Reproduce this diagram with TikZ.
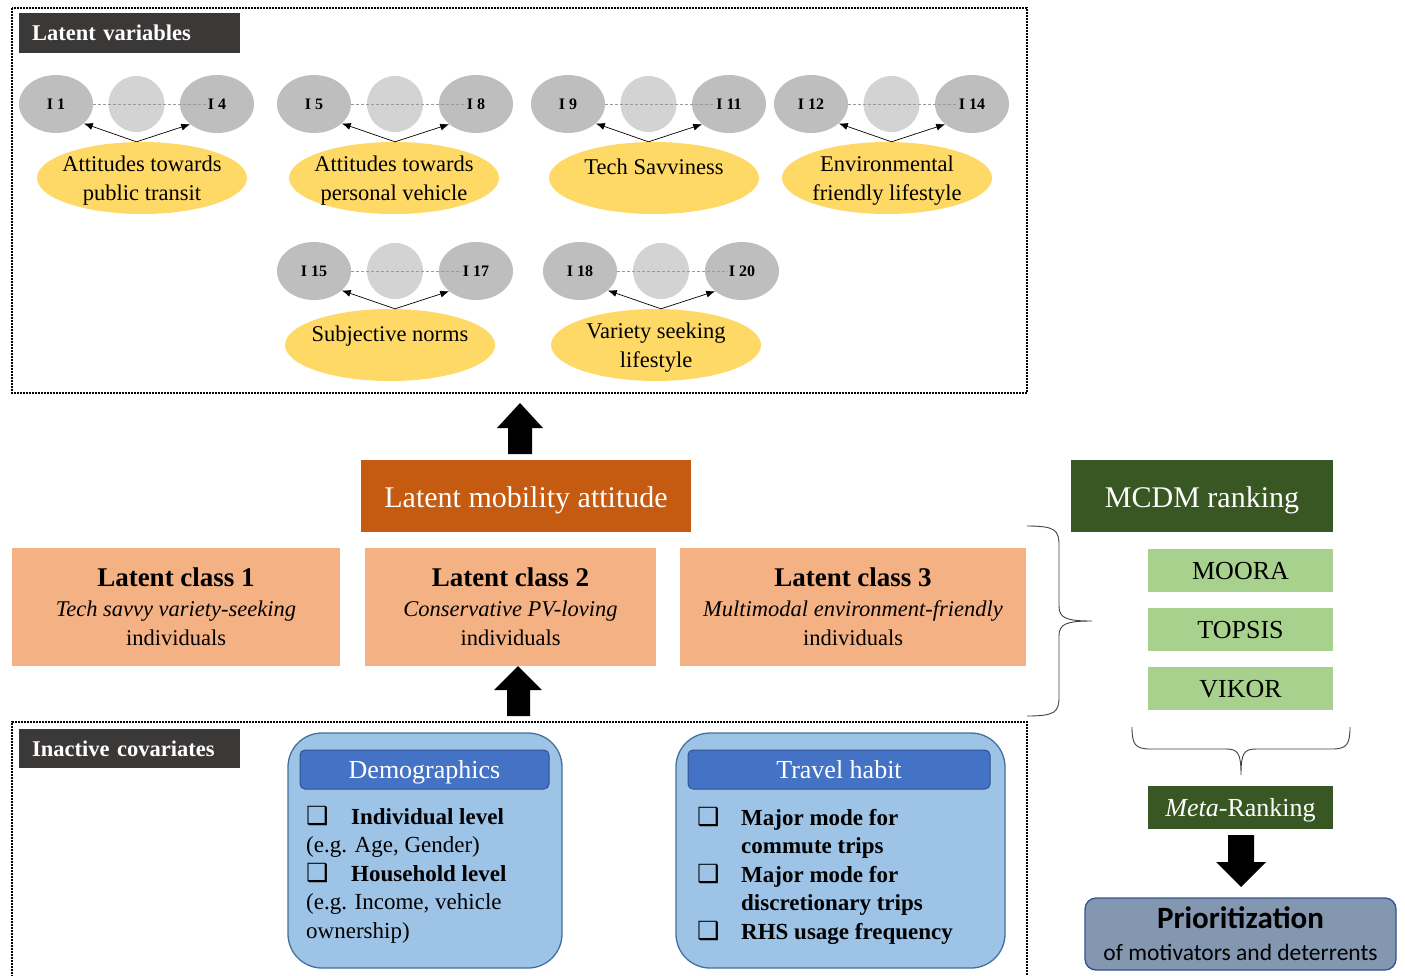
\documentclass[tikz,border=0pt]{standalone}
\usepackage{fontspec}
\setmainfont{Liberation Serif}
\newfontfamily\carlito{Carlito}
\newfontfamily\djv{DejaVu Sans}
\usetikzlibrary{shapes.geometric,arrows.meta,calc}
\definecolor{darklab}{HTML}{3B3838}
\definecolor{igray}{HTML}{BFBEBE}
\definecolor{mgray}{HTML}{D3D3D3}
\definecolor{yel}{HTML}{FFD966}
\definecolor{dorange}{HTML}{C55A11}
\definecolor{peach}{HTML}{F4B183}
\definecolor{dgreen}{HTML}{385723}
\definecolor{lgreen}{HTML}{A9D18E}
\definecolor{lblue}{HTML}{9DC3E6}
\definecolor{hblue}{HTML}{4472C4}
\definecolor{bblue}{HTML}{41719C}
\definecolor{hbord}{HTML}{2F528F}
\definecolor{prio}{HTML}{8497B0}
\definecolor{bracec}{HTML}{404040}
\newcommand{\fs}[2]{\fontsize{#1}{#2}\selectfont}
\newcommand{\cbx}[1]{\makebox[#1][l]{\djv\fontsize{25}{28}\selectfont ❑}}
\newcommand{\lvgroup}[8]{%
  \node[iell] (#1L) at (#2,#4) {};
  \node[icirc] (#1M) at ({(#2+#3)/2},#4) {};
  \node[iell] (#1R) at (#3,#4) {};
  \node[ilab] (#1Lt) at (#1L) {#5};
  \node[ilab] (#1Rt) at (#1R) {#6};
  \draw[idash] (#1L.east) -- (#1Rt.west);
  \node[yell] (#1Y) at (#7,#4+74) {};
  \node[ytext] (#1T) at ([yshift=-3]#1Y.center) {#8};
  \coordinate (#1A) at (#1M |- #1Y.north);
  \draw[iarrow] (#1A) -- (#1L.-35);
  \draw[iarrow] (#1A) -- (#1R.-143);
}
\begin{document}
\begin{tikzpicture}[x=1pt,y=-1pt,
  iell/.style={ellipse,fill=igray,draw=none,minimum width=74,minimum height=58,inner sep=0},
  icirc/.style={circle,fill=mgray,draw=none,minimum size=56,inner sep=0},
  ilab/.style={inner sep=1,font=\bfseries\fs{16}{18}},
  idash/.style={draw=gray!80,dash pattern=on 3pt off 2pt,line width=0.8},
  yell/.style={ellipse,fill=yel,draw=none,minimum width=210,minimum height=72,inner sep=0},
  ytext/.style={align=center,font=\fs{22.5}{29}},
  iarrow/.style={-{Latex[length=9pt,width=7pt]},line width=0.7},
  frame/.style={line width=1.6,dash pattern=on 1.6pt off 1.4pt},
  darklab/.style={fill=darklab,text=white,font=\bfseries\fs{22.5}{26},anchor=north west,
     text width=195,inner xsep=13,inner ysep=0,minimum height=40,align=left},
  peachbox/.style={fill=peach,draw=none,minimum height=118,inner sep=0,align=center,font=\fs{22.5}{29.5}},
  greenbox/.style={fill=lgreen,draw=none,minimum width=185,minimum height=43,inner sep=0,
     text height=18,text depth=0,font=\fs{26}{30}},
  bigbox/.style={draw=none,text=white,minimum height=72,inner sep=0,text height=22,text depth=0,font=\fs{30}{34}},
  outerblue/.style={fill=lblue,draw=bblue,line width=1.3,rounded corners=34},
  headblue/.style={fill=hblue,draw=hbord,line width=1,rounded corners=5,text=white,
     minimum height=39,inner sep=0,text height=18,text depth=0,font=\fs{26}{30}},
  brace/.style={draw=bracec,line width=0.9},
  blk/.style={fill=black}
]
\useasboundingbox (0,0) rectangle (1405,975);

% ---------- Latent variables frame ----------
\draw[frame] (12,8) rectangle (1027,393);
\node[darklab] (lvlab) at (19,13) {Latent variables};

\lvgroup{ga}{56}{217}{104}{I 1}{I 4}{142}{Attitudes towards\\public transit}
\lvgroup{gb}{314}{476}{104}{I 5}{I 8}{394}{Attitudes towards\\personal vehicle}
\lvgroup{gc}{568}{729}{104}{I 9}{I 11}{654}{Tech Savviness\\\mbox{}}
\lvgroup{gd}{811}{972}{104}{I 12}{I 14}{887}{Environmental\\friendly lifestyle}
\lvgroup{ge}{314}{476}{271}{I 15}{I 17}{390}{Subjective norms\\\mbox{}}
\lvgroup{gf}{580}{742}{271}{I 18}{I 20}{656}{Variety seeking\\lifestyle}

% ---------- Latent mobility attitude ----------
\node[bigbox,fill=dorange,minimum width=330] (lma) at (526,496) {Latent mobility attitude};
\fill[blk] (508,454) -- (508,428) -- (497,428) -- (520,403) -- (543,428) -- (532,428) -- (532,454) -- cycle;

% ---------- Latent classes ----------
\node[peachbox,minimum width=328] (lc1) at (176,607)
  {{\bfseries\fs{27}{29.5}Latent class 1}\\\textit{Tech savvy variety-seeking}\\individuals};
\node[peachbox,minimum width=291] (lc2) at (510.5,607)
  {{\bfseries\fs{27}{29.5}Latent class 2}\\\textit{Conservative PV-loving}\\individuals};
\node[peachbox,minimum width=346] (lc3) at (853,607)
  {{\bfseries\fs{27}{29.5}Latent class 3}\\\textit{Multimodal environment-friendly}\\individuals};
\fill[blk] (507,716) -- (507,690) -- (494,690) -- (518,666) -- (542,690) -- (530,690) -- (530,716) -- cycle;

% ---------- right brace ----------
\draw[brace] (1027,526) .. controls (1055,526) and (1059,530) .. (1059,545) -- (1059,606)
  .. controls (1059,618) and (1066,621) .. (1092,621)
  .. controls (1066,621) and (1059,624) .. (1059,636) -- (1059,697)
  .. controls (1059,712) and (1055,716) .. (1027,716);

% ---------- Inactive covariates frame ----------
\draw[frame] (12,980) -- (12,722) -- (1027,722) -- (1027,980);
\node[darklab,minimum height=39] (iclab) at (19,729) {Inactive covariates};

% Demographics
\draw[outerblue] (288,733) rectangle (562,968);
\node[headblue,minimum width=249] (demh) at (424.5,769.5) {Demographics};
\node[anchor=base west,align=left,inner sep=0,font=\fs{23}{28.5}] (demt) at (306,938)
  {\cbx{45pt}\textbf{Individual level}\\(e.g. Age, Gender)\\\cbx{45pt}\textbf{Household level}\\(e.g. Income, vehicle\\ownership)};

% Travel habit
\draw[outerblue] (676,733) rectangle (1005,968);
\node[headblue,minimum width=302] (trh) at (839,769.5) {Travel habit};
\node[anchor=base west,align=left,inner sep=0,font=\bfseries\fs{23}{28.5}] (trt) at (697,939)
  {\cbx{44pt}Major mode for\\\hspace*{44pt}commute trips\\\cbx{44pt}Major mode for\\\hspace*{44pt}discretionary trips\\\cbx{44pt}RHS usage frequency};

% ---------- MCDM ----------
\node[bigbox,fill=dgreen,minimum width=262] (mcdm) at (1202,496) {MCDM ranking};
\node[greenbox] (moora) at (1240.5,570.5) {MOORA};
\node[greenbox] (topsis) at (1240.5,629.5) {TOPSIS};
\node[greenbox] (vikor) at (1240.5,688.5) {VIKOR};

\draw[brace] (1132,727) .. controls (1132,744) and (1135,749) .. (1150,749) -- (1226,749)
  .. controls (1238,749) and (1241,753) .. (1241,775)
  .. controls (1241,753) and (1244,749) .. (1256,749) -- (1332,749)
  .. controls (1347,749) and (1350,744) .. (1350,727);

\node[greenbox,fill=dgreen,text=white] (meta) at (1240.5,807.5) {\textit{Meta}-Ranking};
\fill[blk] (1228,835) -- (1254,835) -- (1254,862) -- (1266,862) -- (1241,887) -- (1216,862) -- (1228,862) -- cycle;

\node[fill=prio,draw=hbord,line width=1.3,rounded corners=11,minimum width=311,minimum height=72,
  inner sep=0,align=center,font=\carlito\fs{23.5}{32}] (pri) at (1240.5,934)
  {{\bfseries\fs{31}{32}Prioritization}\\of motivators and deterrents};
\end{tikzpicture}
\end{document}
